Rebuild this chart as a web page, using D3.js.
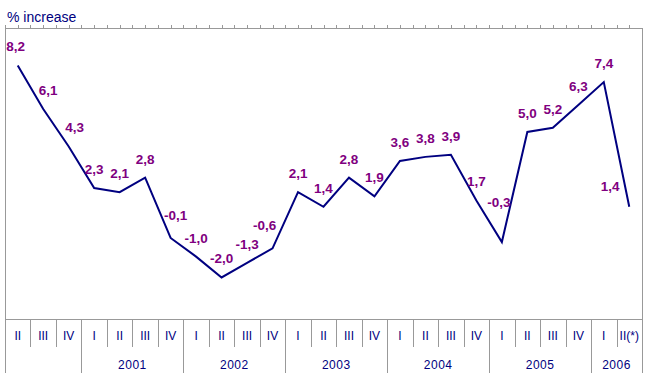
<!DOCTYPE html>
<html><head><meta charset="utf-8">
<script src="https://cdn.jsdelivr.net/npm/d3@7/dist/d3.min.js"></script>
<style>
html,body{margin:0;padding:0;background:#fff;}
svg{display:block;}
</style>
</head><body>
<svg id="chart" width="649" height="383"></svg>
<script>
// ---- data ----
const quarters = ["II","III","IV","I","II","III","IV","I","II","III","IV","I","II","III","IV","I","II","III","IV","I","II","III","IV","I","II(*)"];
const values = [8.2,6.1,4.3,2.3,2.1,2.8,-0.1,-1.0,-2.0,-1.3,-0.6,2.1,1.4,2.8,1.9,3.6,3.8,3.9,1.7,-0.3,5.0,5.2,6.3,7.4,1.4];
const yearNames = ["","2001","2002","2003","2004","2005","2006"];
const yearQuarterCounts = [3,4,4,4,4,4,2];
const yAxisTitle = "% increase";

// ---- layout ----
const pLeft = 5, pRight = 642, pTop = 28, plotBottom = 319, qBottom = 347, yBottom = 373;
const navy = "#000080", purple = "#800080", grey = "#999999";

const svg = d3.select("#chart");
const ids = quarters.map((q, i) => i);
const x = d3.scaleBand().domain(ids).range([pLeft, pRight]).padding(0);
const y = d3.scaleLinear().domain([-4, 10]).range([plotBottom, pTop]);
const bw = x.bandwidth();
const cx = i => x(i) + bw / 2;

// label nudges (layout only)
const nudge = {0:[-2,0],1:[5,0],2:[6,0],6:[5,-4],10:[-8,-4],19:[-3,-21],24:[-19,-2]};

// title
svg.append("text").attr("x", pLeft + 2).attr("y", 22)
  .attr("font-family", "Liberation Sans, Arial, sans-serif").attr("font-size", 14)
  .attr("fill", navy).text(yAxisTitle);

// frame
const g = svg.append("g").attr("stroke", grey).attr("stroke-width", 1).attr("shape-rendering", "crispEdges");
g.append("line").attr("x1", pLeft).attr("x2", pRight).attr("y1", pTop).attr("y2", pTop);
g.append("line").attr("x1", pLeft).attr("x2", pRight).attr("y1", plotBottom).attr("y2", plotBottom);
g.append("line").attr("x1", pLeft).attr("x2", pLeft).attr("y1", pTop).attr("y2", yBottom);
g.append("line").attr("x1", pRight).attr("x2", pRight).attr("y1", pTop).attr("y2", yBottom);

// top ticks at half-band intervals
const tickXs = [];
ids.forEach(i => { tickXs.push(x(i)); tickXs.push(cx(i)); });
g.selectAll(".tt").data(tickXs).enter().append("line")
  .attr("x1", d => Math.round(d)).attr("x2", d => Math.round(d))
  .attr("y1", pTop - 3).attr("y2", pTop);

// quarter separators
g.selectAll(".qs").data(ids.slice(1)).enter().append("line")
  .attr("x1", d => Math.round(x(d))).attr("x2", d => Math.round(x(d)))
  .attr("y1", plotBottom).attr("y2", qBottom);

// year groups
let start = 0;
const groups = yearNames.map((nm, k) => { const s = start; start += yearQuarterCounts[k]; return {name: nm, s: s, e: start - 1}; });
g.selectAll(".ys").data(groups.slice(1)).enter().append("line")
  .attr("x1", d => Math.round(x(d.s))).attr("x2", d => Math.round(x(d.s)))
  .attr("y1", plotBottom).attr("y2", yBottom);

// quarter labels
svg.selectAll(".ql").data(quarters).enter().append("text")
  .attr("x", (d, i) => cx(i)).attr("y", 336).attr("dy", "0.36em")
  .attr("text-anchor", "middle").attr("font-family", "Liberation Sans, Arial, sans-serif")
  .attr("font-size", 12).attr("fill", navy).text(d => d);

// year labels
svg.selectAll(".yl").data(groups).enter().append("text")
  .attr("x", d => (x(d.s) + x(d.e) + bw) / 2).attr("y", 364.5).attr("dy", "0.36em")
  .attr("text-anchor", "middle").attr("font-family", "Liberation Sans, Arial, sans-serif")
  .attr("font-size", 12).attr("letter-spacing", 0.5).attr("fill", navy).text(d => d.name);

// line
const line = d3.line().x((d, i) => cx(i)).y(d => y(d));
svg.append("path").datum(values).attr("d", line)
  .attr("fill", "none").attr("stroke", navy).attr("stroke-width", 2).attr("stroke-linejoin", "miter");

// value labels
const fmt = v => v.toFixed(1).replace(".", ",");
svg.selectAll(".vl").data(values).enter().append("text")
  .attr("x", (d, i) => cx(i) + (nudge[i] ? nudge[i][0] : 0))
  .attr("y", (d, i) => y(d) - 19 + (nudge[i] ? nudge[i][1] : 0))
  .attr("dy", "0.36em").attr("text-anchor", "middle")
  .attr("font-family", "Liberation Sans, Arial, sans-serif").attr("font-weight", "bold")
  .attr("font-size", 13.5).attr("fill", purple).text(d => fmt(d));
</script>
</body></html>
